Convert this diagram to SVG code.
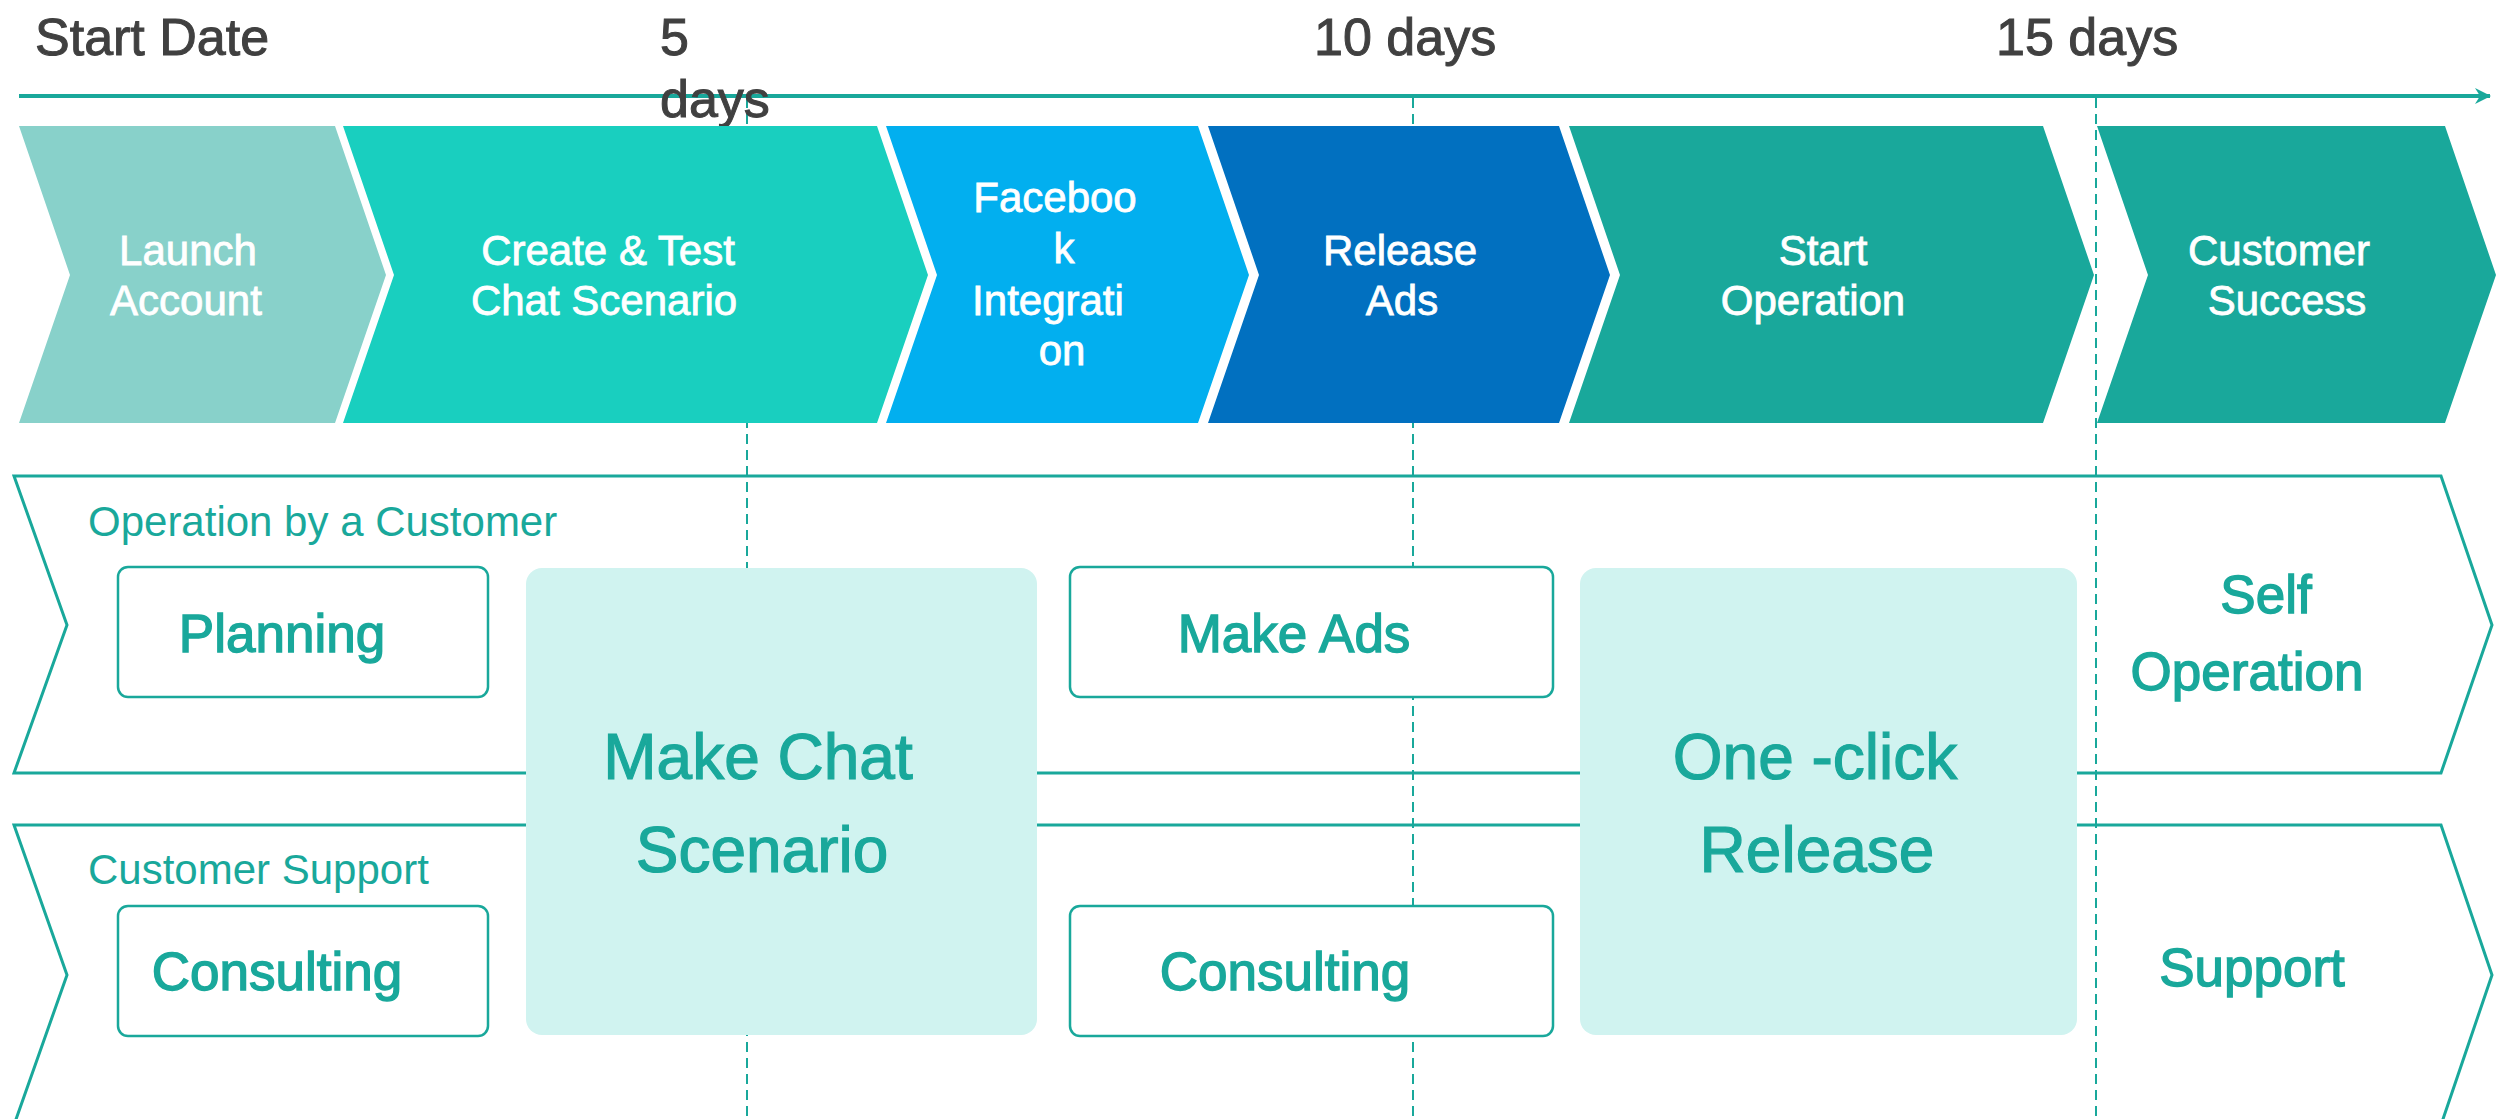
<svg xmlns="http://www.w3.org/2000/svg" width="2509" height="1119" viewBox="0 0 2509 1119">
<defs>
<style>
text{font-family:"Liberation Sans",Arial,sans-serif}
.dark{fill:#404040;stroke:#404040;stroke-width:1;font-size:52px}
.chev-t{fill:#ffffff;stroke:#ffffff;stroke-width:0.8;font-size:42px;text-anchor:middle}
.lane{fill:none;stroke:#19A89B;stroke-width:3}
.lane-t{fill:#19A89B;font-size:42px}
.box{fill:#ffffff;stroke:#19A89B;stroke-width:2.5}
.big{fill:#D0F3F0}
.box-t{fill:#19A89B;stroke:#19A89B;stroke-width:1.4;font-size:53px;text-anchor:middle}
.big-t{fill:#19A89B;stroke:#19A89B;stroke-width:1.2;font-size:64px;text-anchor:middle}
.guide{stroke:#19A89B;stroke-width:2;stroke-dasharray:10 6;fill:none}
</style>
<marker id="arrow" viewBox="0 0 16 16" refX="15" refY="8" markerWidth="16" markerHeight="16" markerUnits="userSpaceOnUse" orient="auto">
<path d="M0,0 L16,8 L0,16 L5,8 Z" fill="#19A89B"/>
</marker>
</defs>
<rect x="0" y="0" width="2509" height="1119" fill="#ffffff"/>

<g id="connectors">
<line x1="19" y1="96" x2="2490" y2="96" stroke="#19A89B" stroke-width="4" marker-end="url(#arrow)"/>
<line class="guide" x1="747" y1="98" x2="747" y2="1119"/>
<line class="guide" x1="1413" y1="98" x2="1413" y2="1119"/>
<line class="guide" x1="2096" y1="98" x2="2096" y2="1119"/>
</g>

<g id="timeline-labels">
<text class="dark" x="35" y="55">Start Date</text>
<text class="dark" x="660" y="55">5</text>
<text class="dark" x="660" y="117">days</text>
<text class="dark" x="1314" y="55">10 days</text>
<text class="dark" x="1996" y="55">15 days</text>
</g>

<g id="step-launch">
<polygon points="19,126 335,126 386,275 335,423 19,423 70,275" fill="#88D1CA"/>
<text class="chev-t" x="188" y="265">Launch</text>
<text class="chev-t" x="186" y="315">Account</text>
</g>
<g id="step-create">
<polygon points="343,126 877,126 928,275 877,423 343,423 394,275" fill="#19CFBF"/>
<text class="chev-t" x="608" y="265">Create &amp; Test</text>
<text class="chev-t" x="604" y="315">Chat Scenario</text>
</g>
<g id="step-facebook">
<polygon points="886,126 1198,126 1249,275 1198,423 886,423 937,275" fill="#02AFEF"/>
<text class="chev-t" x="1055" y="212">Faceboo</text>
<text class="chev-t" x="1064" y="263">k</text>
<text class="chev-t" x="1048" y="315">Integrati</text>
<text class="chev-t" x="1062" y="365">on</text>
</g>
<g id="step-release">
<polygon points="1208,126 1559,126 1610,275 1559,423 1208,423 1259,275" fill="#0170C0"/>
<text class="chev-t" x="1400" y="265">Release</text>
<text class="chev-t" x="1402" y="315">Ads</text>
</g>
<g id="step-start">
<polygon points="1569,126 2043,126 2094,275 2043,423 1569,423 1620,275" fill="#19A89B"/>
<text class="chev-t" x="1823" y="265">Start</text>
<text class="chev-t" x="1813" y="315">Operation</text>
</g>
<g id="step-success">
<polygon points="2097,126 2445,126 2496,275 2445,423 2097,423 2148,275" fill="#19A89B"/>
<text class="chev-t" x="2279" y="265">Customer</text>
<text class="chev-t" x="2287" y="315">Success</text>
</g>

<g id="lane-operation">
<polygon class="lane" points="14,476 2441,476 2492,625 2441,773 14,773 67,625"/>
<text class="lane-t" x="88" y="536">Operation by a Customer</text>
</g>
<g id="lane-support">
<polygon class="lane" points="14,825 2441,825 2492,975 2441,1125 14,1125 67,975"/>
<text class="lane-t" x="88" y="884">Customer Support</text>
</g>

<g id="box-planning">
<rect class="box" x="118" y="567" width="370" height="130" rx="10"/>
<text class="box-t" x="282" y="652">Planning</text>
</g>
<g id="box-make-ads">
<rect class="box" x="1070" y="567" width="483" height="130" rx="10"/>
<text class="box-t" x="1294" y="652">Make Ads</text>
</g>
<g id="box-consulting-1">
<rect class="box" x="118" y="906" width="370" height="130" rx="10"/>
<text class="box-t" x="277" y="990">Consulting</text>
</g>
<g id="box-consulting-2">
<rect class="box" x="1070" y="906" width="483" height="130" rx="10"/>
<text class="box-t" x="1285" y="990">Consulting</text>
</g>
<g id="box-make-chat">
<rect class="big" x="526" y="568" width="511" height="467" rx="16"/>
<text class="big-t" x="758" y="779">Make Chat</text>
<text class="big-t" x="762" y="872">Scenario</text>
</g>
<g id="box-one-click">
<rect class="big" x="1580" y="568" width="497" height="467" rx="16"/>
<text class="big-t" x="1815" y="779">One -click</text>
<text class="big-t" x="1817" y="872">Release</text>
</g>
<g id="label-self-operation">
<text class="box-t" x="2266" y="613">Self</text>
<text class="box-t" x="2247" y="690">Operation</text>
</g>
<g id="label-support">
<text class="box-t" x="2252" y="986">Support</text>
</g>
</svg>
